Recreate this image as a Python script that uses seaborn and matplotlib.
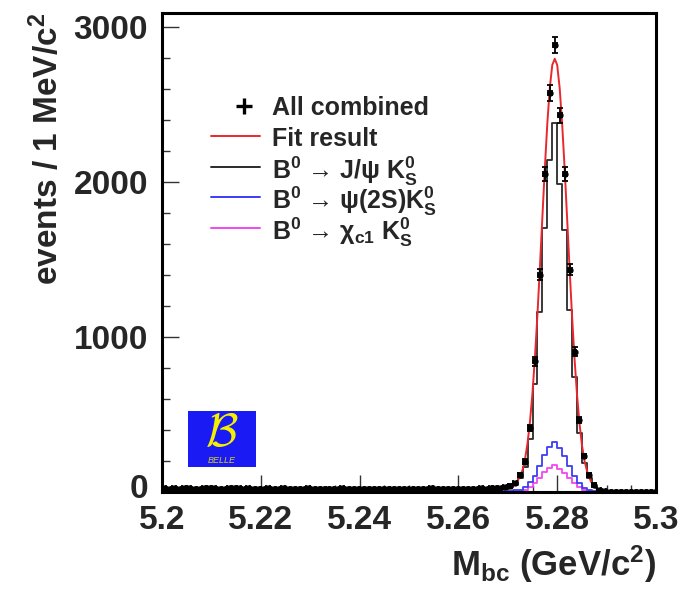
import numpy as np
import pandas as pd
import matplotlib
matplotlib.use("Agg")
import matplotlib.pyplot as plt
import matplotlib.transforms as mtransforms
import seaborn as sns
from matplotlib.patches import Rectangle
from matplotlib.ticker import MultipleLocator

# 1 MeV bins from 5.200 to 5.300 GeV/c^2 (100 bins)
n_bins = 100
mbc_range = (5.2, 5.3)
bin_centers = np.round(np.arange(5.2005, 5.3, 0.001), 4)

data_counts = [
    24, 22, 25, 21, 23, 26, 22, 20, 24, 23,
    25, 22, 21, 24, 27, 23, 22, 25, 21, 20,
    22, 24, 19, 21, 23, 20, 22, 18, 21, 23,
    20, 19, 22, 21, 18, 20, 23, 19, 21, 20,
    18, 21, 19, 20, 22, 18, 20, 21, 19, 18,
    20, 22, 19, 21, 23, 20, 19, 22, 20, 21,
    19, 22, 20, 21, 23, 22, 24, 26, 28, 33,
    42, 60, 110, 196, 412, 842, 1403, 2054, 2575, 2883,
    2430, 2054, 1435, 905, 465, 233, 110, 48, 16, 5,
    1, 0, 0, 0, 0, 0, 0, 0, 0, 0,
]
jpsi_counts = [
    18, 17, 19, 16, 18, 20, 17, 16, 18, 18,
    19, 17, 16, 18, 20, 18, 17, 19, 16, 16,
    17, 18, 15, 16, 18, 16, 17, 14, 16, 18,
    16, 15, 17, 16, 14, 16, 18, 15, 16, 16,
    14, 16, 15, 16, 17, 14, 16, 16, 15, 14,
    16, 17, 15, 16, 18, 16, 15, 17, 16, 16,
    15, 17, 16, 16, 18, 17, 19, 20, 22, 25,
    32, 46, 88, 160, 340, 695, 1160, 1700, 2140, 2380,
    1990, 1690, 1175, 740, 380, 190, 88, 36, 12, 3,
    0, 0, 0, 0, 0, 0, 0, 0, 0, 0,
]
psi2s_counts = [
    4, 3, 4, 3, 4, 5, 3, 3, 4, 4,
    4, 3, 3, 4, 5, 4, 3, 4, 3, 3,
    3, 4, 3, 3, 4, 3, 3, 3, 3, 4,
    3, 3, 3, 3, 3, 3, 4, 3, 3, 3,
    3, 3, 3, 3, 3, 3, 3, 3, 3, 3,
    3, 3, 3, 3, 4, 3, 3, 3, 3, 3,
    3, 3, 3, 3, 4, 3, 4, 4, 5, 5,
    6, 10, 16, 30, 62, 105, 165, 238, 288, 325,
    282, 235, 165, 102, 55, 27, 12, 5, 2, 0,
    0, 0, 0, 0, 0, 0, 0, 0, 0, 0,
]
chic1_counts = [
    2, 2, 3, 2, 2, 3, 2, 2, 2, 2,
    3, 2, 2, 2, 3, 2, 2, 2, 2, 2,
    2, 2, 2, 2, 2, 2, 2, 2, 2, 2,
    2, 2, 2, 2, 2, 2, 2, 2, 2, 2,
    2, 2, 2, 2, 2, 2, 2, 2, 2, 2,
    2, 2, 2, 2, 2, 2, 2, 2, 2, 2,
    2, 2, 2, 2, 2, 2, 2, 2, 3, 3,
    3, 5, 8, 14, 30, 56, 90, 126, 158, 175,
    150, 125, 88, 55, 30, 14, 6, 2, 1, 0,
    0, 0, 0, 0, 0, 0, 0, 0, 0, 0,
]

fit_x = [
    5.2000, 5.2100, 5.2200, 5.2300, 5.2400, 5.2500, 5.2600, 5.2650, 5.2680,
    5.2700, 5.2705, 5.2710, 5.2715, 5.2720, 5.2725, 5.2730, 5.2735, 5.2740,
    5.2745, 5.2750, 5.2755, 5.2760, 5.2765, 5.2770, 5.2775, 5.2780, 5.2785,
    5.2790, 5.2795, 5.2800, 5.2805, 5.2810, 5.2815, 5.2820, 5.2825, 5.2830,
    5.2835, 5.2840, 5.2845, 5.2850, 5.2855, 5.2860, 5.2865, 5.2870, 5.2875,
    5.2880, 5.2885, 5.2890, 5.2895, 5.2900, 5.3000,
]
fit_y = [
    23, 22, 22, 21, 21, 20, 20, 21, 22,
    25, 29, 38, 50, 72, 105, 143, 215, 317,
    458, 643, 873, 1145, 1452, 1775, 2092, 2379, 2607,
    2755, 2795, 2754, 2605, 2375, 2088, 1769, 1445, 1137,
    863, 632, 446, 304, 205, 140, 92, 58, 35,
    20, 10, 4, 1, 0, 0,
]

x_ticks = [5.2, 5.22, 5.24, 5.26, 5.28, 5.3]
x_tick_labels = ["5.2", "5.22", "5.24", "5.26", "5.28", "5.3"]
y_ticks = [0, 1000, 2000, 3000]

hists = pd.DataFrame({
    "mbc": bin_centers,
    "data": data_counts,
    "jpsi": jpsi_counts,
    "psi2s": psi2s_counts,
    "chic1": chic1_counts,
})
fit = pd.DataFrame({"mbc": fit_x, "fit": fit_y})

sns.set_theme(style="ticks")
plt.rcParams["font.family"] = ["Liberation Sans", "DejaVu Sans"]
plt.rcParams["font.weight"] = "bold"
plt.rcParams["mathtext.default"] = "regular"

fig = plt.figure(figsize=(6.87, 5.92), dpi=100)
ax = fig.add_axes([0.2358, 0.1689, 0.7191, 0.8091])

c_red = "#e8282e"
c_black = "#2a2a2a"
c_blue = "#3d3df5"
c_mag = "#f048f0"

for col, c in [("chic1", c_mag), ("psi2s", c_blue), ("jpsi", c_black)]:
    sns.histplot(data=hists, x="mbc", weights=col, bins=n_bins,
                 binrange=mbc_range, element="step", fill=False, color=c,
                 linewidth=1.3, ax=ax)

sns.lineplot(data=fit, x="mbc", y="fit", color=c_red, linewidth=1.4, ax=ax)

ax.errorbar(hists["mbc"], hists["data"], yerr=np.sqrt(hists["data"]),
            xerr=0.0004, fmt="o", ms=3.5, color="black", ecolor="black",
            elinewidth=1.3, capsize=2.5, capthick=1.3, zorder=5)

ax.set_xlim(*mbc_range)
ax.set_ylim(0, 3090)
ax.set_xticks(x_ticks)
ax.set_xticklabels(x_tick_labels)
ax.set_yticks(y_ticks)
ax.xaxis.set_minor_locator(MultipleLocator(0.005))
ax.yaxis.set_minor_locator(MultipleLocator(200))
ax.tick_params(axis="both", which="major", direction="in", length=12,
               width=1.0, labelsize=24, color="#333333")
ax.tick_params(axis="x", which="minor", direction="in", length=5,
               width=1.0, color="#333333")
ax.tick_params(axis="y", which="minor", direction="in", length=6,
               width=1.0, color="#333333")
ax.tick_params(axis="x", pad=9)
ax.tick_params(axis="y", pad=10)
for lab in ax.get_xticklabels() + ax.get_yticklabels():
    lab.set_fontweight("bold")
# lift the "0" a touch so it does not sit on top of "5.2"
zero_lab = ax.get_yticklabels()[0]
zero_lab.set_transform(zero_lab.get_transform() +
                       mtransforms.ScaledTranslation(0, 4 / 72, fig.dpi_scale_trans))
for s in ax.spines.values():
    s.set_linewidth(2.2)
    s.set_color("black")

ax.set_xlabel("M$_{bc}$ (GeV/c$^{2}$)", fontsize=25, fontweight="bold",
              loc="right", labelpad=6)
ax.set_ylabel("events / 1 MeV/c$^{2}$", fontsize=24, fontweight="bold",
              loc="top", labelpad=6)

# legend, ROOT style: rows evenly spaced in axes coordinates
leg_labels = [
    "All combined",
    "Fit result",
    "B$^{0}$ \u2192 J/\u03c8 K$^{0}_{S}$",
    "B$^{0}$ \u2192 \u03c8(2S)K$^{0}_{S}$",
    "B$^{0}$ \u2192 \u03c7$_{c1}$ K$^{0}_{S}$",
]
leg_colors = ["black", c_red, c_black, c_blue, c_mag]
row_y0, row_dy = 0.806, 0.0635
for i, (lab, c) in enumerate(zip(leg_labels, leg_colors)):
    yy = row_y0 - i * row_dy
    if i == 0:
        ax.plot([0.166], [yy], marker="+", ms=11, mew=2.4, color=c,
                transform=ax.transAxes, clip_on=False)
    else:
        ax.plot([0.099, 0.198], [yy, yy], color=c, lw=1.4,
                transform=ax.transAxes)
    ax.text(0.222, yy, lab, transform=ax.transAxes, fontsize=18,
            fontweight="bold", ha="left", va="center_baseline")

# Belle logo
ax.add_patch(Rectangle((0.0526, 0.052), 0.137, 0.117, transform=ax.transAxes,
                       facecolor="#1a1af5", edgecolor="none", zorder=6))
ax.text(0.121, 0.122, r"$\mathcal{B}$", transform=ax.transAxes, color="#f5f000",
        fontsize=34, ha="center", va="center", zorder=7, math_fontfamily="cm")
ax.text(0.121, 0.066, "BELLE", transform=ax.transAxes, color="#d8d020",
        fontsize=6.5, style="italic", fontweight="normal", ha="center",
        va="center", zorder=7)

fig.savefig("out.png", dpi=100, facecolor="white")
